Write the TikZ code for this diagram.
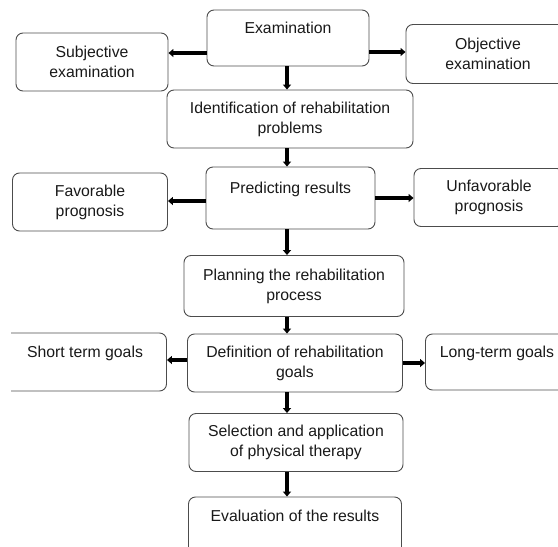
\documentclass[tikz,border=0pt]{standalone}
\usepackage{fontspec}
\setmainfont{Liberation Sans}
\usetikzlibrary{arrows.meta}

\begin{document}
\begin{tikzpicture}[x=1pt,y=-1pt,
        box/.style={draw=black!70,line width=0.9pt,rounded corners=7pt,align=center,
          inner sep=0pt,text=black!90,font=\fontsize{15.8}{20}\selectfont},
        flow/.style={line width=3.4pt,-{Triangle[width=8pt,length=5pt]}}]
        \useasboundingbox (0,0) rectangle (558,547);
        \clip (11,0) rectangle (558,547);
        \coordinate (axis) at (287,0);
        % top row
        \node[box,minimum width=162pt,minimum height=56pt] (exam) at (288,38) {Examination\\~};
        \node[box,minimum width=152pt,minimum height=58pt] (subj) at (92,62) {Subjective\\examination};
        \node[box,minimum width=164pt,minimum height=59pt] (obj) at (488,54) {Objective\\examination};
        \node[box,minimum width=246pt,minimum height=58pt] (ident) at (290,119) {Identification of rehabilitation\\problems};
        % prognosis row
        \node[box,minimum width=169pt,minimum height=62pt] (pred) at (290.5,198) {Predicting results\\~};
        \node[box,minimum width=155pt,minimum height=58pt] (fav) at (90,202) {Favorable\\prognosis};
        \node[box,minimum width=150pt,minimum height=58pt] (unfav) at (489,197.5) {Unfavorable\\prognosis};
        \node[box,minimum width=220pt,minimum height=61pt] (plan) at (294,286) {Planning the rehabilitation\\process};
        % goals row
        \node[box,minimum width=215pt,minimum height=58pt] (goals) at (295,363) {Definition of rehabilitation\\goals};
        \node[box,minimum width=163pt,minimum height=58pt] (short) at (85,362) {Short term goals\\~};
        \node[box,minimum width=143pt,minimum height=56pt] (long) at (497,362) {Long-term goals\\~};
        \node[box,minimum width=214pt,minimum height=58pt] (select) at (296,442.5) {Selection and application\\of physical therapy};
        \node[box,minimum width=213pt,minimum height=58pt] (eval) at (295,526) {Evaluation of the results\\~};
        % side arrows
        \draw[flow] ([yshift=-15pt]exam.west) -- ([yshift=-15pt]exam.west -| subj.east);
        \draw[flow] ([yshift=-14pt]exam.east) -- ([yshift=-14pt]exam.east -| obj.west);
        \draw[flow] ([yshift=-3pt]pred.west) -- ([yshift=-3pt]pred.west -| fav.east);
        \draw[flow] (pred.east) -- (pred.east -| unfav.west);
        \draw[flow] ([yshift=3pt]goals.west) -- ([yshift=3pt]goals.west -| short.east);
        \draw[flow] (goals.east) -- (goals.east -| long.west);
        % main column
        \draw[flow] (axis |- exam.south) -- (axis |- ident.north);
        \draw[flow] (axis |- ident.south) -- (axis |- pred.north);
        \draw[flow] (axis |- pred.south) -- (axis |- plan.north);
        \draw[flow] (axis |- plan.south) -- (axis |- goals.north);
        \draw[flow] (axis |- goals.south) -- (axis |- select.north);
        \draw[flow] (axis |- select.south) -- (axis |- eval.north);
\end{tikzpicture}
\end{document}
